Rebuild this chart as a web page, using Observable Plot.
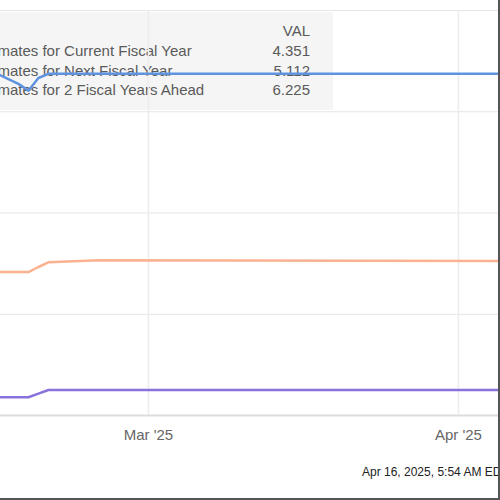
<!DOCTYPE html>
<html>
<head>
<meta charset="utf-8">
<script src="https://cdn.jsdelivr.net/npm/d3@7"></script>
<script src="https://cdn.jsdelivr.net/npm/@observablehq/plot@0.6"></script>
<style>
  html, body { margin: 0; padding: 0; background: #fff; }
  #wrap { position: relative; width: 500px; height: 500px; overflow: hidden; font-family: "Liberation Sans", Arial, sans-serif; }
  #legend { position: absolute; left: 0; top: 12px; width: 333px; height: 98px; background: #f5f5f5; }
  .lab { position: absolute; left: -151px; white-space: nowrap; font-size: 15px; color: #5a5a5a; line-height: 20px; }
  .val { position: absolute; right: 23px; font-size: 15px; color: #5a5a5a; line-height: 20px; text-align: right; }
  #chart { position: absolute; left: 0; top: 0; }
  #stamp { position: absolute; left: 362px; top: 465px; font-size: 12px; color: #222; white-space: nowrap; }
  #edgeR { position: absolute; right: 0; top: 0; width: 2px; height: 500px; background: #555; }
  #edgeB { position: absolute; left: 0; bottom: 0; width: 500px; height: 2px; background: #555; }
</style>
</head>
<body>
<div id="wrap">
  <div id="legend"></div>
  <div id="chart"></div>
  <div id="stamp"></div>
  <div id="edgeR"></div>
  <div id="edgeB"></div>
</div>
<script>
// ---- data ----
const dates = ["2025-02-10", "2025-02-14", "2025-02-16", "2025-02-17", "2025-02-18", "2025-02-19", "2025-02-24", "2025-04-16"];
const currentFY = [4.308, 4.308, 4.308, 4.308, 4.330, 4.351, 4.351, 4.351];
const nextFY    = [5.050, 5.050, 5.050, 5.050, 5.080, 5.108, 5.120, 5.115];
const twoFYAhead = [6.225, 6.222, 6.165, 6.125, 6.200, 6.225, 6.225, 6.225];

const seriesNames = [
  "Zacks Consensus Estimates for Current Fiscal Year",
  "Zacks Consensus Estimates for Next Fiscal Year",
  "Zacks Consensus Estimates for 2 Fiscal Years Ahead"
];
const legendValues = ["4.351", "5.112", "6.225"];
const seriesColors = ["#8a72dc", "#fbb291", "#5f93e0"];
const valHeader = "VAL";

const yTicks = [4.2, 4.8, 5.4, 6.0, 6.6];
const xTickDates = ["2025-03-01", "2025-04-01"];
const xTickLabels = ["Mar '25", "Apr '25"];
const xDomain = ["2025-02-14T05:00:00Z", "2025-04-05T05:00:00Z"];
const stampText = "Apr 16, 2025, 5:54 AM EDT";

// ---- build table ----
const allSeries = [currentFY, nextFY, twoFYAhead];
const rows = [];
allSeries.forEach((vals, s) => {
  vals.forEach((v, i) => rows.push({date: new Date(dates[i]), value: v, series: seriesNames[s]}));
});
const xt = xTickDates.map(d => new Date(d));

const plot = Plot.plot({
  width: 500,
  height: 500,
  marginLeft: 0,
  marginRight: 0,
  marginTop: 10,
  marginBottom: 85,
  style: {background: "transparent", fontFamily: "Liberation Sans, Arial, sans-serif"},
  x: {type: "utc", domain: xDomain.map(d => new Date(d))},
  y: {domain: [4.2, 6.6]},
  color: {domain: seriesNames, range: seriesColors},
  marks: [
    Plot.gridY(yTicks.slice(1), {stroke: "#e4e4e4", strokeOpacity: 1, strokeWidth: 1}),
    Plot.gridX(xt, {stroke: "#ececec", strokeOpacity: 1, strokeWidth: 1.5}),
    Plot.ruleY([yTicks[0]], {stroke: "#dcdcdc", strokeWidth: 2}),
    // y axis sits just left of the visible crop, as in the reference
    Plot.axisY(yTicks, {anchor: "left", tickSize: 0, tickPadding: 8, label: null, fontSize: 13, fill: "#666",
      tickFormat: d3.format(".1f")}),
    Plot.axisX(xt, {tickSize: 0, tickPadding: 14, fontSize: 15, fill: "#666",
      tickFormat: (d) => xTickLabels[xt.findIndex(t => +t === +d)]}),
    Plot.line(rows, {x: "date", y: "value", z: "series", stroke: "series", strokeWidth: 2.5, clip: true, curve: "linear"})
  ]
});
document.getElementById("chart").appendChild(plot);

// ---- legend (behind the chart) ----
const legend = document.getElementById("legend");
const hdr = document.createElement("div");
hdr.className = "val"; hdr.style.top = "9px"; hdr.textContent = valHeader;
legend.appendChild(hdr);
seriesNames.forEach((name, i) => {
  const top = 29 + i * 19.7;
  const l = document.createElement("div");
  l.className = "lab"; l.style.top = top + "px"; l.textContent = name;
  legend.appendChild(l);
  const v = document.createElement("div");
  v.className = "val"; v.style.top = top + "px"; v.textContent = legendValues[i];
  legend.appendChild(v);
});
document.getElementById("stamp").textContent = stampText;
</script>
</body>
</html>
